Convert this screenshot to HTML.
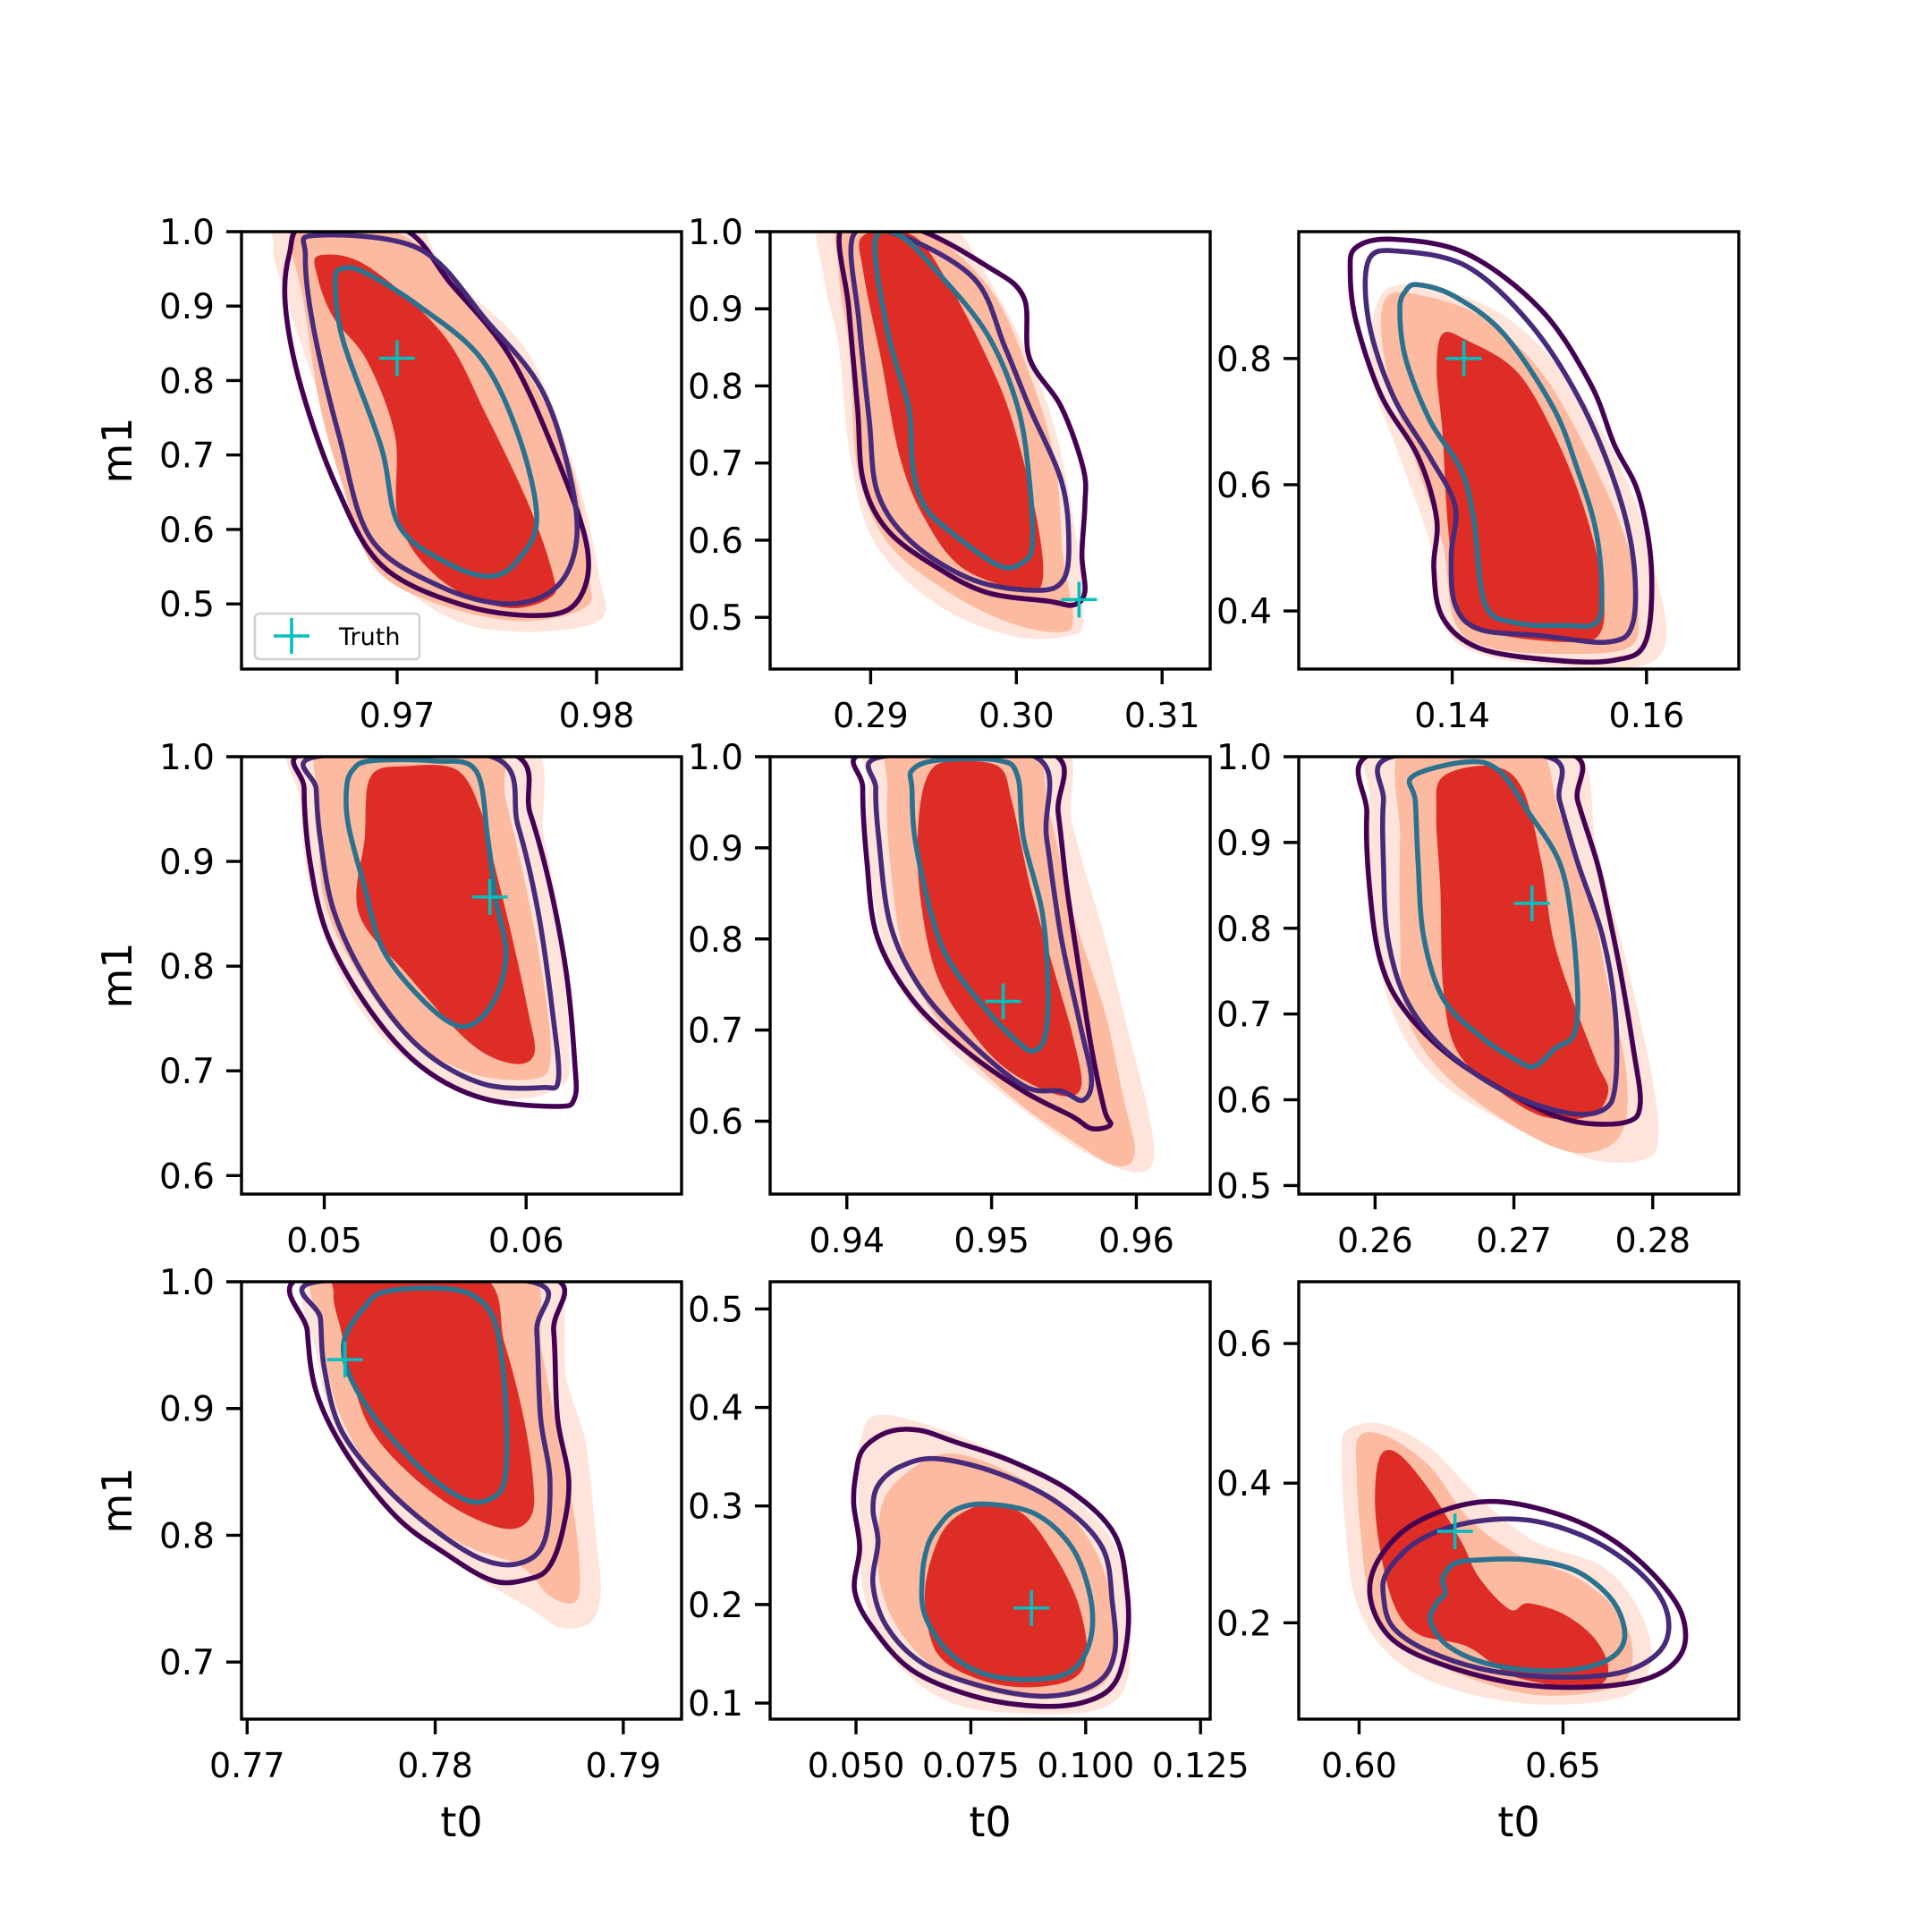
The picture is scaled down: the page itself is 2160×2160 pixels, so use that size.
<!DOCTYPE html>
<html><head><meta charset="utf-8">
<style>
html,body{margin:0;padding:0;background:#fff;}
svg{display:block;font-family:"DejaVu Sans","Liberation Sans",sans-serif;}
</style></head>
<body>
<svg id="fig" width="2160" height="2160" viewBox="0 0 2160 2160" xmlns="http://www.w3.org/2000/svg"></svg>
<script>
// ---- axis limits (data units) ----
const xlims = [[0.9622,0.98426],[0.2831,0.3133],[0.1242,0.1695],[0.0459,0.0677],[0.9347,0.9651],[0.2545,0.2862],[0.7697,0.7931],[0.0313,0.1271],[0.5852,0.6931]];
const ylims = [[0.4125,1.0],[0.433,1.0],[0.308,1.001],[0.5823,1.0],[0.52,1.0],[0.49,1.0],[0.655,1.0],[0.0837,0.5276],[0.062,0.6885]];
// ---- ticks ----
const xticks = [[0.97,0.98],[0.29,0.30,0.31],[0.14,0.16],[0.05,0.06],[0.94,0.95,0.96],[0.26,0.27,0.28],[0.77,0.78,0.79],[0.05,0.075,0.1,0.125],[0.60,0.65]];
const xtickLabels = [["0.97","0.98"],["0.29","0.30","0.31"],["0.14","0.16"],["0.05","0.06"],["0.94","0.95","0.96"],["0.26","0.27","0.28"],["0.77","0.78","0.79"],["0.050","0.075","0.100","0.125"],["0.60","0.65"]];
const yticks = [[0.5,0.6,0.7,0.8,0.9,1.0],[0.5,0.6,0.7,0.8,0.9,1.0],[0.4,0.6,0.8],[0.6,0.7,0.8,0.9,1.0],[0.6,0.7,0.8,0.9,1.0],[0.5,0.6,0.7,0.8,0.9,1.0],[0.7,0.8,0.9,1.0],[0.1,0.2,0.3,0.4,0.5],[0.2,0.4,0.6]];
const ytickLabels = [["0.5","0.6","0.7","0.8","0.9","1.0"],["0.5","0.6","0.7","0.8","0.9","1.0"],["0.4","0.6","0.8"],["0.6","0.7","0.8","0.9","1.0"],["0.6","0.7","0.8","0.9","1.0"],["0.5","0.6","0.7","0.8","0.9","1.0"],["0.7","0.8","0.9","1.0"],["0.1","0.2","0.3","0.4","0.5"],["0.2","0.4","0.6"]];
// ---- truth values (t0, m1) ----
const truthT0 = [0.97,0.3043,0.1412,0.0582,0.9508,0.2713,0.7752,0.0882,0.6235];
const truthM1 = [0.83,0.523,0.80,0.866,0.7315,0.829,0.9386,0.1965,0.331];

// ---- contour regions, [t0, m1] pairs ----
// panel 1
const p1L=[[0.9644,1.03],[0.9638,0.98],[0.9642,0.93],[0.9656,0.817],[0.9672,0.697],[0.9687,0.57],[0.9722,0.487],[0.9758,0.463],[0.9801,0.477],[0.9801,0.541],[0.9789,0.68],[0.9765,0.84],[0.9725,0.945],[0.9703,1.03]];
const p1M=[[0.9652,1.02],[0.9703,0.995],[0.9734,0.917],[0.9767,0.803],[0.9788,0.68],[0.9796,0.541],[0.9794,0.495],[0.976,0.477],[0.9715,0.505],[0.9687,0.555],[0.9672,0.665],[0.9661,0.77],[0.9653,0.908],[0.9647,0.982]];
const p1D=[[0.9661,0.968],[0.9685,0.954],[0.9723,0.862],[0.9745,0.752],[0.9766,0.633],[0.9778,0.541],[0.9777,0.509],[0.9754,0.495],[0.9722,0.532],[0.9701,0.61],[0.9699,0.725],[0.9685,0.826],[0.9668,0.885],[0.966,0.94]];
const p1C0=[[0.9655,1.01],[0.9702,1.005],[0.9727,0.93],[0.9756,0.835],[0.9778,0.71],[0.9795,0.58],[0.9792,0.51],[0.9775,0.485],[0.9735,0.497],[0.9693,0.55],[0.967,0.655],[0.9652,0.79],[0.9644,0.9],[0.9646,0.97]];
const p1C1=[[0.9659,0.995],[0.9711,0.977],[0.9745,0.88],[0.9772,0.79],[0.9786,0.68],[0.979,0.587],[0.978,0.523],[0.9756,0.5],[0.9722,0.523],[0.9687,0.587],[0.9671,0.725],[0.9658,0.872],[0.9654,0.968]];
const p1C2=[[0.9672,0.95],[0.9684,0.945],[0.9711,0.9],[0.9742,0.83],[0.9761,0.725],[0.977,0.615],[0.9761,0.56],[0.9747,0.537],[0.9725,0.555],[0.9701,0.605],[0.9692,0.711],[0.9673,0.853],[0.9669,0.93]];
// panel 2
const p2L=[[0.2869,1.02],[0.2946,1.02],[0.2988,0.915],[0.3022,0.772],[0.3039,0.628],[0.3046,0.5],[0.3035,0.476],[0.2997,0.476],[0.2946,0.516],[0.2903,0.596],[0.2886,0.708],[0.2878,0.852],[0.2868,0.94]];
const p2M=[[0.2881,1.02],[0.2937,1.0],[0.298,0.931],[0.3005,0.836],[0.3026,0.708],[0.3032,0.58],[0.3039,0.5],[0.3031,0.481],[0.2997,0.492],[0.2954,0.532],[0.2912,0.596],[0.2891,0.692],[0.2886,0.836],[0.2878,0.947]];
const p2D=[[0.2895,0.995],[0.2929,0.995],[0.2954,0.931],[0.298,0.836],[0.2997,0.756],[0.3014,0.628],[0.3018,0.548],[0.3005,0.535],[0.2963,0.564],[0.2937,0.628],[0.292,0.708],[0.2907,0.836],[0.2895,0.947]];
const p2C0=[[0.2881,1.01],[0.2929,1.005],[0.298,0.955],[0.3005,0.915],[0.3009,0.836],[0.3031,0.772],[0.3046,0.692],[0.3047,0.645],[0.3045,0.581],[0.3047,0.533],[0.3039,0.516],[0.3022,0.521],[0.298,0.532],[0.2946,0.564],[0.2912,0.612],[0.2895,0.676],[0.2891,0.772],[0.2885,0.9]];
const p2C1=[[0.2888,0.995],[0.292,0.995],[0.2971,0.939],[0.2992,0.851],[0.3009,0.772],[0.3031,0.676],[0.3036,0.596],[0.3032,0.548],[0.3014,0.535],[0.2971,0.548],[0.2929,0.596],[0.2905,0.66],[0.2899,0.756],[0.2892,0.883]];
const p2C2=[[0.2903,0.987],[0.292,0.995],[0.2946,0.947],[0.298,0.867],[0.3001,0.772],[0.3009,0.676],[0.3011,0.596],[0.3005,0.572],[0.2988,0.567],[0.2954,0.612],[0.2937,0.644],[0.2929,0.692],[0.2926,0.772],[0.2912,0.867]];
// panel 3
const p3L=[[0.1327,0.901],[0.1377,0.913],[0.1453,0.868],[0.1523,0.761],[0.158,0.605],[0.1611,0.449],[0.162,0.351],[0.1592,0.312],[0.1516,0.312],[0.1428,0.332],[0.139,0.381],[0.1377,0.507],[0.1346,0.644],[0.1316,0.78]];
const p3M=[[0.1333,0.898],[0.1365,0.901],[0.1428,0.868],[0.1491,0.78],[0.1542,0.644],[0.158,0.507],[0.1592,0.39],[0.158,0.341],[0.1516,0.332],[0.1441,0.341],[0.1403,0.381],[0.139,0.507],[0.1365,0.624],[0.1339,0.741],[0.1327,0.839]];
const p3D=[[0.139,0.839],[0.1415,0.829],[0.1466,0.78],[0.1504,0.683],[0.1535,0.566],[0.1554,0.449],[0.1554,0.371],[0.1529,0.351],[0.1453,0.361],[0.1409,0.39],[0.1396,0.527],[0.139,0.683],[0.1384,0.78]];
const p3C0=[[0.1301,0.976],[0.1339,0.989],[0.1415,0.966],[0.1491,0.878],[0.1542,0.761],[0.1567,0.663],[0.1592,0.585],[0.1605,0.468],[0.1599,0.351],[0.1567,0.322],[0.1504,0.322],[0.1428,0.341],[0.139,0.39],[0.1381,0.468],[0.1384,0.546],[0.1365,0.644],[0.1327,0.741],[0.1301,0.859],[0.1295,0.937]];
const p3C1=[[0.1314,0.956],[0.1346,0.97],[0.1415,0.946],[0.1478,0.859],[0.1529,0.741],[0.1567,0.605],[0.1586,0.488],[0.1586,0.381],[0.1561,0.351],[0.1491,0.361],[0.1428,0.371],[0.1403,0.41],[0.1399,0.488],[0.1403,0.566],[0.1377,0.644],[0.1339,0.741],[0.1314,0.859]];
const p3C2=[[0.1352,0.907],[0.1365,0.917],[0.1403,0.898],[0.1453,0.839],[0.1504,0.722],[0.1529,0.624],[0.1548,0.527],[0.1554,0.429],[0.1548,0.381],[0.1516,0.377],[0.1466,0.381],[0.1434,0.41],[0.1422,0.546],[0.1409,0.624],[0.1377,0.702],[0.1352,0.8],[0.1346,0.878]];
// panel 4
const p4L=[[0.0489,1.02],[0.0597,1.02],[0.0609,0.922],[0.0618,0.828],[0.0621,0.733],[0.0618,0.686],[0.0584,0.674],[0.0541,0.71],[0.0511,0.78],[0.0493,0.875],[0.0488,0.958]];
const p4M=[[0.0502,1.02],[0.0581,1.02],[0.059,0.958],[0.06,0.875],[0.0609,0.78],[0.0612,0.71],[0.0603,0.692],[0.0572,0.698],[0.0541,0.733],[0.0517,0.792],[0.05,0.863],[0.0498,0.946]];
const p4D=[[0.0523,0.981],[0.0541,0.991],[0.0566,0.987],[0.0578,0.946],[0.0584,0.899],[0.0593,0.828],[0.0601,0.757],[0.0604,0.716],[0.0593,0.707],[0.0572,0.727],[0.0541,0.792],[0.0517,0.851],[0.052,0.922]];
const p4C0=[[0.0493,1.005],[0.059,1.005],[0.0602,0.946],[0.0612,0.875],[0.062,0.792],[0.0624,0.71],[0.0624,0.674],[0.0615,0.666],[0.0578,0.674],[0.0548,0.704],[0.0523,0.757],[0.0502,0.828],[0.0493,0.899],[0.049,0.969]];
const p4C1=[[0.0496,1.0],[0.0583,1.0],[0.0596,0.934],[0.0606,0.851],[0.0613,0.757],[0.0616,0.692],[0.0608,0.684],[0.0578,0.688],[0.0548,0.721],[0.0523,0.78],[0.0505,0.851],[0.0498,0.922],[0.0496,0.969]];
const p4C2=[[0.0514,0.987],[0.0523,0.996],[0.0554,0.996],[0.0575,0.987],[0.0581,0.922],[0.0585,0.863],[0.059,0.816],[0.0587,0.78],[0.0578,0.751],[0.0566,0.743],[0.0548,0.769],[0.0529,0.816],[0.052,0.875],[0.0512,0.934],[0.0511,0.969]];
// panel 5
const p5L=[[0.9421,1.02],[0.9544,1.02],[0.9556,0.924],[0.9578,0.802],[0.9595,0.694],[0.9608,0.612],[0.9612,0.558],[0.9599,0.544],[0.9565,0.565],[0.9522,0.612],[0.9471,0.68],[0.9432,0.761],[0.9415,0.883],[0.9415,0.965]];
const p5M=[[0.9435,1.02],[0.9523,1.02],[0.954,0.938],[0.9556,0.829],[0.9578,0.721],[0.9591,0.626],[0.9599,0.565],[0.9586,0.551],[0.9556,0.578],[0.9514,0.626],[0.9471,0.694],[0.9441,0.775],[0.943,0.883],[0.9428,0.965]];
const p5D=[[0.9458,0.985],[0.9475,0.995],[0.9505,0.989],[0.9514,0.951],[0.9527,0.856],[0.9544,0.761],[0.9556,0.694],[0.9562,0.639],[0.9548,0.628],[0.9514,0.653],[0.9488,0.694],[0.9462,0.761],[0.945,0.856],[0.945,0.938]];
const p5C0=[[0.9415,1.005],[0.9539,1.005],[0.9546,0.938],[0.9552,0.856],[0.9561,0.761],[0.9569,0.68],[0.9578,0.612],[0.9582,0.596],[0.9569,0.592],[0.9556,0.605],[0.9522,0.633],[0.948,0.68],[0.9445,0.734],[0.9421,0.802],[0.9414,0.883],[0.9411,0.965]];
const p5C1=[[0.9424,1.0],[0.953,1.0],[0.9538,0.911],[0.9548,0.802],[0.9561,0.707],[0.9569,0.646],[0.9563,0.623],[0.9548,0.633],[0.9522,0.639],[0.948,0.694],[0.945,0.748],[0.943,0.816],[0.9422,0.911],[0.942,0.965]];
const p5C2=[[0.9445,0.985],[0.9462,0.996],[0.9505,0.996],[0.9518,0.978],[0.9522,0.911],[0.9535,0.829],[0.9539,0.748],[0.9537,0.694],[0.9529,0.677],[0.9518,0.687],[0.9497,0.721],[0.9471,0.775],[0.9458,0.829],[0.9447,0.911],[0.9445,0.965]];
// panel 6
const p6L=[[0.2604,1.02],[0.2737,1.02],[0.276,0.891],[0.2781,0.761],[0.2799,0.631],[0.2804,0.559],[0.2795,0.531],[0.2755,0.531],[0.2693,0.574],[0.264,0.631],[0.2609,0.718],[0.2597,0.847],[0.2596,0.948]];
const p6M=[[0.2622,1.02],[0.2711,1.02],[0.2733,0.934],[0.2755,0.833],[0.2768,0.732],[0.2781,0.631],[0.2777,0.559],[0.2746,0.538],[0.2702,0.567],[0.2649,0.631],[0.2622,0.703],[0.2618,0.804],[0.2618,0.905]];
const p6D=[[0.2649,0.977],[0.2684,0.989],[0.2706,0.963],[0.272,0.876],[0.2728,0.79],[0.2742,0.718],[0.2759,0.646],[0.2768,0.61],[0.2755,0.581],[0.272,0.581],[0.2684,0.617],[0.2658,0.66],[0.2649,0.732],[0.2647,0.847],[0.2644,0.934]];
const p6C0=[[0.26,1.005],[0.2737,1.005],[0.2746,0.948],[0.276,0.876],[0.2768,0.819],[0.2777,0.747],[0.2786,0.66],[0.2791,0.595],[0.2781,0.574],[0.2746,0.574],[0.2711,0.595],[0.2658,0.646],[0.2622,0.703],[0.2604,0.761],[0.2596,0.847],[0.2594,0.934]];
const p6C1=[[0.2612,1.0],[0.2724,1.0],[0.2733,0.948],[0.2746,0.876],[0.2764,0.79],[0.2773,0.703],[0.2773,0.617],[0.2764,0.588],[0.2737,0.585],[0.2693,0.61],[0.2649,0.66],[0.2622,0.718],[0.2609,0.79],[0.2606,0.876],[0.2606,0.948]];
const p6C2=[[0.2627,0.977],[0.2666,0.994],[0.2689,0.984],[0.2711,0.934],[0.2733,0.876],[0.2742,0.804],[0.2746,0.718],[0.2743,0.675],[0.273,0.66],[0.2715,0.639],[0.2702,0.646],[0.2675,0.675],[0.2649,0.718],[0.2635,0.79],[0.2631,0.876],[0.2629,0.948]];
// panel 7
const p7L=[[0.7737,1.02],[0.7854,1.02],[0.787,0.922],[0.788,0.873],[0.7885,0.805],[0.7888,0.757],[0.7883,0.732],[0.7867,0.727],[0.7851,0.742],[0.7818,0.771],[0.7779,0.815],[0.775,0.873],[0.7737,0.942]];
const p7M=[[0.7741,1.02],[0.7844,1.02],[0.7857,0.942],[0.7867,0.864],[0.7874,0.815],[0.7877,0.766],[0.7874,0.747],[0.7861,0.752],[0.7845,0.776],[0.7812,0.795],[0.7773,0.839],[0.775,0.893],[0.7741,0.951]];
const p7D=[[0.7746,0.99],[0.7753,1.01],[0.7824,1.005],[0.7837,0.951],[0.7847,0.893],[0.7852,0.844],[0.7851,0.815],[0.7838,0.805],[0.7812,0.82],[0.7786,0.849],[0.7766,0.883],[0.7756,0.922],[0.775,0.961]];
const p7C0=[[0.7732,1.005],[0.7858,1.005],[0.7863,0.961],[0.7865,0.893],[0.7871,0.844],[0.7868,0.805],[0.7861,0.776],[0.7851,0.766],[0.7831,0.764],[0.7805,0.786],[0.7779,0.815],[0.7753,0.864],[0.7737,0.912],[0.7732,0.961]];
const p7C1=[[0.7737,1.0],[0.7851,1.0],[0.7854,0.961],[0.7856,0.893],[0.7861,0.844],[0.7858,0.795],[0.7845,0.778],[0.7825,0.781],[0.7799,0.805],[0.7773,0.839],[0.775,0.883],[0.7741,0.932],[0.7739,0.971]];
const p7C2=[[0.7752,0.956],[0.7763,0.981],[0.7773,0.992],[0.7799,0.995],[0.7819,0.99],[0.7831,0.971],[0.7836,0.932],[0.7838,0.883],[0.7837,0.844],[0.7831,0.83],[0.7818,0.827],[0.7799,0.844],[0.7779,0.873],[0.7763,0.903],[0.7753,0.932]];
// panel 8
const p8L=[[0.0516,0.377],[0.0543,0.392],[0.0623,0.387],[0.0756,0.365],[0.0917,0.327],[0.105,0.271],[0.109,0.202],[0.1092,0.126],[0.1036,0.095],[0.089,0.089],[0.0703,0.101],[0.0569,0.151],[0.0516,0.214],[0.0508,0.289],[0.0503,0.34]];
const p8M=[[0.0569,0.314],[0.065,0.346],[0.073,0.352],[0.0863,0.327],[0.097,0.289],[0.1036,0.239],[0.1063,0.176],[0.105,0.126],[0.097,0.107],[0.0836,0.107],[0.0703,0.126],[0.0609,0.164],[0.0556,0.214],[0.0548,0.271]];
const p8D=[[0.0703,0.283],[0.0783,0.302],[0.0863,0.292],[0.093,0.252],[0.0983,0.202],[0.1002,0.151],[0.097,0.124],[0.0863,0.116],[0.0756,0.126],[0.0676,0.151],[0.065,0.202],[0.0663,0.245]];
const p8C0=[[0.0516,0.358],[0.0569,0.375],[0.0636,0.377],[0.0716,0.365],[0.0836,0.346],[0.097,0.314],[0.1063,0.271],[0.109,0.214],[0.109,0.164],[0.1063,0.12],[0.0997,0.101],[0.089,0.097],[0.0756,0.107],[0.0623,0.133],[0.0537,0.176],[0.0497,0.214],[0.0508,0.258],[0.0495,0.302],[0.05,0.333]];
const p8C1=[[0.0548,0.321],[0.0596,0.34],[0.0676,0.348],[0.081,0.333],[0.0943,0.302],[0.1036,0.258],[0.1058,0.202],[0.1063,0.151],[0.1023,0.12],[0.0917,0.107],[0.0783,0.116],[0.065,0.139],[0.0569,0.176],[0.0537,0.22],[0.0548,0.264],[0.0537,0.296]];
const p8C2=[[0.0676,0.277],[0.0716,0.296],[0.0783,0.302],[0.089,0.292],[0.097,0.258],[0.101,0.208],[0.101,0.164],[0.097,0.133],[0.089,0.124],[0.0783,0.129],[0.0703,0.151],[0.065,0.189],[0.0644,0.227],[0.0655,0.258]];
// panel 9
const p9L=[[0.597,0.476],[0.6054,0.485],[0.6175,0.45],[0.6295,0.379],[0.643,0.317],[0.6596,0.281],[0.6686,0.219],[0.6716,0.149],[0.6656,0.096],[0.6446,0.083],[0.6235,0.104],[0.6084,0.149],[0.5994,0.228],[0.5964,0.352],[0.5958,0.441]];
const p9M=[[0.6,0.467],[0.6069,0.467],[0.6175,0.423],[0.6265,0.352],[0.6385,0.299],[0.6536,0.264],[0.6641,0.211],[0.6671,0.149],[0.6626,0.108],[0.6446,0.096],[0.6265,0.122],[0.6114,0.166],[0.603,0.228],[0.6003,0.334],[0.5994,0.414]];
const p9D=[[0.6054,0.441],[0.6099,0.441],[0.6175,0.388],[0.625,0.317],[0.6295,0.264],[0.637,0.219],[0.6415,0.228],[0.6506,0.211],[0.6581,0.175],[0.6611,0.131],[0.6566,0.108],[0.6385,0.122],[0.6265,0.166],[0.6144,0.184],[0.6084,0.228],[0.6048,0.317],[0.6039,0.388]];
const p9C0=[[0.6039,0.281],[0.6114,0.334],[0.6235,0.366],[0.6355,0.373],[0.6506,0.352],[0.6626,0.317],[0.673,0.264],[0.6792,0.211],[0.6792,0.158],[0.6716,0.122],[0.6566,0.108],[0.6385,0.113],[0.6205,0.14],[0.6084,0.175],[0.603,0.228]];
const p9C1=[[0.6069,0.273],[0.6144,0.317],[0.6265,0.343],[0.6415,0.347],[0.6566,0.32],[0.6686,0.273],[0.6753,0.219],[0.6746,0.166],[0.6656,0.131],[0.6506,0.122],[0.6325,0.131],[0.6175,0.158],[0.6084,0.193],[0.606,0.237]];
const p9C2=[[0.6205,0.264],[0.6235,0.285],[0.6295,0.29],[0.6415,0.29],[0.6536,0.273],[0.6626,0.228],[0.665,0.175],[0.6596,0.143],[0.6476,0.131],[0.6325,0.14],[0.622,0.166],[0.6175,0.202],[0.619,0.228],[0.6211,0.242]];

const fillsL=[p1L,p2L,p3L,p4L,p5L,p6L,p7L,p8L,p9L];
const fillsM=[p1M,p2M,p3M,p4M,p5M,p6M,p7M,p8M,p9M];
const fillsD=[p1D,p2D,p3D,p4D,p5D,p6D,p7D,p8D,p9D];
const lines0=[p1C0,p2C0,p3C0,p4C0,p5C0,p6C0,p7C0,p8C0,p9C0];
const lines1=[p1C1,p2C1,p3C1,p4C1,p5C1,p6C1,p7C1,p8C1,p9C1];
const lines2=[p1C2,p2C2,p3C2,p4C2,p5C2,p6C2,p7C2,p8C2,p9C2];

const NS="http://www.w3.org/2000/svg";
const svg=document.getElementById('fig');
const colX=[270,861,1452], rowY=[259,846,1433], AW=492, AH=489;
function mk(tag,attrs,parent){const e=document.createElementNS(NS,tag);for(const k in attrs)e.setAttribute(k,attrs[k]);(parent||svg).appendChild(e);return e;}
function smooth(pts){
  const n=pts.length;let d=`M${pts[0][0].toFixed(1)},${pts[0][1].toFixed(1)}`;
  for(let i=0;i<n;i++){
    const p0=pts[(i-1+n)%n],p1=pts[i],p2=pts[(i+1)%n],p3=pts[(i+2)%n];
    const c1x=p1[0]+(p2[0]-p0[0])/6,c1y=p1[1]+(p2[1]-p0[1])/6;
    const c2x=p2[0]-(p3[0]-p1[0])/6,c2y=p2[1]-(p3[1]-p1[1])/6;
    d+=`C${c1x.toFixed(1)},${c1y.toFixed(1)} ${c2x.toFixed(1)},${c2y.toFixed(1)} ${p2[0].toFixed(1)},${p2[1].toFixed(1)}`;
  }
  return d+'Z';
}
for(let i=0;i<9;i++){
  const x0=colX[i%3], y0=rowY[Math.floor(i/3)];
  const xs=v=>x0+(v-xlims[i][0])/(xlims[i][1]-xlims[i][0])*AW;
  const ys=v=>y0+AH-(v-ylims[i][0])/(ylims[i][1]-ylims[i][0])*AH;
  const g=mk('g',{});
  
  
  const cp=mk('clipPath',{id:'clip'+i},g);
  mk('rect',{x:x0,y:y0,width:AW,height:AH},cp);
  const plot=mk('g',{'clip-path':`url(#clip${i})`},g);
  
  
  const layers=[[fillsL,'#fee4da','fill'],[fillsM,'#fcbba1','fill'],[fillsD,'#de2d26','fill'],[lines0,'#440154','line'],[lines1,'#472a7a','line'],[lines2,'#2c728e','line']];
  const names=['density-fill-outer','density-fill-middle','density-fill-inner','contour-outer','contour-middle','contour-inner'];
  layers.forEach((ly,k)=>{
    const pts=ly[0][i].map(p=>[xs(p[0]),ys(p[1])]);
    const p=mk('path',{d:smooth(pts)},plot);
    if(ly[2]==='fill'){p.setAttribute('fill',ly[1]);}
    else{p.setAttribute('fill','none');p.setAttribute('stroke',ly[1]);p.setAttribute('stroke-width','5.6');p.setAttribute('stroke-linejoin','round');}
    
    
  });
  const tx=xs(truthT0[i]),ty=ys(truthM1[i]);
  const tm=mk('path',{d:`M${tx-20},${ty}H${tx+20}M${tx},${ty-20}V${ty+20}`,stroke:'#00bfbf','stroke-width':3.6,fill:'none'},g);
  
  
  const sp=mk('rect',{x:x0,y:y0,width:AW,height:AH,fill:'none',stroke:'#000','stroke-width':3.4},g);
  
  
  xticks[i].forEach((v,k)=>{
    const x=xs(v);
    const t=mk('line',{x1:x,x2:x,y1:y0+AH,y2:y0+AH+17,stroke:'#000','stroke-width':3.4},g);
    
    
    const tl=mk('text',{x:x,y:y0+AH+65,'text-anchor':'middle','font-size':38,fill:'#000'},g);
    tl.textContent=xtickLabels[i][k];
    
    
  });
  yticks[i].forEach((v,k)=>{
    const y=ys(v);
    const t=mk('line',{x1:x0-17,x2:x0,y1:y,y2:y,stroke:'#000','stroke-width':3.4},g);
    
    
    const tl=mk('text',{x:x0-30,y:y+14,'text-anchor':'end','font-size':39,fill:'#000'},g);
    tl.textContent=ytickLabels[i][k];
    
    
  });
  if(i%3===0){
    const yl=mk('text',{x:0,y:0,transform:`translate(147,${y0+AH/2}) rotate(-90)`,'text-anchor':'middle','font-size':46,fill:'#000'},g);
    yl.textContent='m1';
    
    
  }
  if(i>=6){
    const xl=mk('text',{x:x0+AW/2,y:2053,'text-anchor':'middle','font-size':46,fill:'#000'},g);
    xl.textContent='t0';
    
    
  }
}
const lg=mk('g',{});


const lb=mk('rect',{x:285,y:686,width:184,height:51,rx:5,fill:'#fff','fill-opacity':0.8,stroke:'#d0d0d0','stroke-width':2.5},lg);


const lm=mk('path',{d:'M306,711H346M326,691V731',stroke:'#00bfbf','stroke-width':3.6,fill:'none'},lg);


const lt=mk('text',{x:379,y:721,'font-size':27,fill:'#000'},lg);
lt.textContent='Truth';


</script>
</body></html>
